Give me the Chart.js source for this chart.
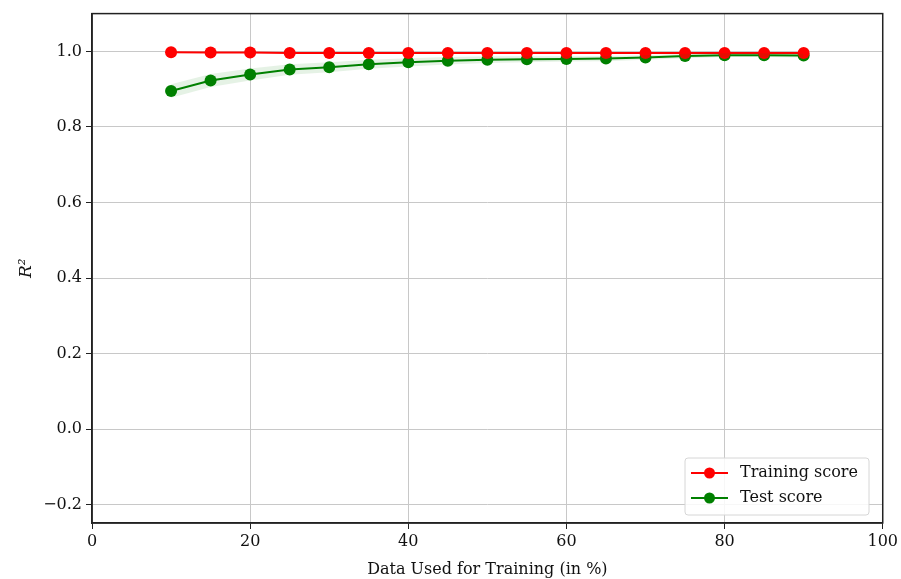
<!DOCTYPE html>
<html>
<head>
<meta charset="utf-8">
<script src="https://cdn.jsdelivr.net/npm/chart.js@4/dist/chart.umd.min.js"></script>
<style>
  html, body { margin: 0; padding: 0; background: #fff; }
  #wrap { width: 901px; height: 579px; position: relative; }
</style>
</head>
<body>
<div id="wrap"><canvas id="myChart" width="901" height="579"></canvas></div>
<script>
// Data --------------------------------------------
const trainSizes = [10, 15, 20, 25, 30, 35, 40, 45, 50, 55, 60, 65, 70, 75, 80, 85, 90];
const trainScore = [0.998, 0.997, 0.997, 0.996, 0.996, 0.996, 0.996, 0.996, 0.996, 0.996, 0.996, 0.996, 0.996, 0.996, 0.996, 0.996, 0.996];
const testScore  = [0.895, 0.923, 0.939, 0.952, 0.958, 0.966, 0.971, 0.975, 0.978, 0.979, 0.980, 0.981, 0.984, 0.988, 0.990, 0.990, 0.989];
const testStd    = [0.018, 0.017, 0.016, 0.014, 0.013, 0.012, 0.011, 0.010, 0.009, 0.008, 0.007, 0.007, 0.006, 0.006, 0.005, 0.005, 0.005];
const xTicks = [0, 20, 40, 60, 80, 100];
const yTicks = [-0.2, 0.0, 0.2, 0.4, 0.6, 0.8, 1.0];

const pts = (ys) => trainSizes.map((x, i) => ({ x: x, y: ys[i] }));
const upper = testScore.map((v, i) => v + testStd[i]);
const lower = testScore.map((v, i) => v - testStd[i]);

const serif = "'DejaVu Serif', serif";

// Frame + legend drawn inside the plot area
const framePlugin = {
	id: 'frame',
	afterDraw(chart) {
		const { ctx, chartArea: a } = chart;
		ctx.save();
		ctx.strokeStyle = '#222';
		ctx.lineWidth = 1.5;
		ctx.strokeRect(a.left, a.top, a.right - a.left, a.bottom - a.top);

		// legend box
		const bx = 685, by = 458, bw = 184, bh = 57;
		ctx.fillStyle = 'rgba(255,255,255,0.85)';
		ctx.strokeStyle = '#d6d6d6';
		ctx.lineWidth = 1;
		ctx.beginPath();
		ctx.roundRect(bx, by, bw, bh, 3);
		ctx.fill();
		ctx.stroke();
		const items = [['Training score', 'red', 473], ['Test score', 'green', 498]];
		ctx.font = '16px ' + serif;
		ctx.textBaseline = 'middle';
		items.forEach(([label, color, y]) => {
			ctx.strokeStyle = color;
			ctx.lineWidth = 2;
			ctx.beginPath();
			ctx.moveTo(691, y);
			ctx.lineTo(728, y);
			ctx.stroke();
			ctx.fillStyle = color;
			ctx.beginPath();
			ctx.arc(709.5, y, 5.5, 0, Math.PI * 2);
			ctx.fill();
			ctx.fillStyle = '#111';
			ctx.fillText(label, 740, y);
		});
		ctx.restore();
	}
};

let ctx = document.getElementById('myChart').getContext('2d');
let chart = new Chart(ctx, {
	type: 'line',
	data: {
		datasets: [
			{
				label: 'upper',
				data: pts(upper),
				borderWidth: 0,
				pointRadius: 0,
				fill: false
			},
			{
				label: 'lower',
				data: pts(lower),
				borderWidth: 0,
				pointRadius: 0,
				backgroundColor: 'rgba(0, 128, 0, 0.1)',
				fill: '-1'
			},
			{
				label: 'Training score',
				data: pts(trainScore),
				borderColor: 'red',
				backgroundColor: 'red',
				borderWidth: 2,
				pointRadius: 6,
				pointBorderWidth: 0,
				fill: false
			},
			{
				label: 'Test score',
				data: pts(testScore),
				borderColor: 'green',
				backgroundColor: 'green',
				borderWidth: 2,
				pointRadius: 6,
				pointBorderWidth: 0,
				fill: false
			}
		]
	},
	options: {
		responsive: false,
		animation: false,
		layout: { padding: { top: 10, right: 17, left: 0, bottom: 0 } },
		plugins: {
			legend: { display: false },
			tooltip: { enabled: false }
		},
		scales: {
			x: {
				type: 'linear',
				min: 0,
				max: 100,
				afterBuildTicks: (s) => { s.ticks = xTicks.map(v => ({ value: v })); },
				afterFit: (s) => { s.height = 56; },
				grid: { color: '#c8c8c8', lineWidth: 1, tickLength: 6, tickColor: '#222' },
				border: { color: '#222', width: 1.5 },
				ticks: { color: '#111', font: { family: serif, size: 16 }, padding: 3, maxRotation: 0 },
				title: {
					display: true,
					text: 'Data Used for Training (in %)',
					color: '#111',
					font: { family: serif, size: 16 },
					padding: { top: 0, bottom: 0 }
				}
			},
			y: {
				min: -0.248,
				max: 1.1,
				afterBuildTicks: (s) => { s.ticks = yTicks.map(v => ({ value: v })); },
				afterFit: (s) => { s.width = 92; },
				grid: { color: '#c8c8c8', lineWidth: 1, tickLength: 6, tickColor: '#222' },
				border: { color: '#222', width: 1.5 },
				ticks: {
					color: '#111',
					font: { family: serif, size: 16 },
					padding: 4,
					callback: (v) => (v < 0 ? '\u2212' + Math.abs(v).toFixed(1) : v.toFixed(1))
				},
				title: {
					display: true,
					text: 'R\u00B2',
					color: '#111',
					font: { family: serif, size: 17, style: 'italic' },
					padding: { top: 16, bottom: 6 }
				}
			}
		}
	},
	plugins: [framePlugin]
});
</script>
</body>
</html>
